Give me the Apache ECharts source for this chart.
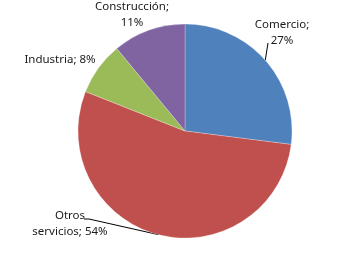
<!DOCTYPE html>
<html><head><meta charset="utf-8">
<script src="https://cdn.jsdelivr.net/npm/echarts@6/dist/echarts.min.js"></script>
<style>html,body{margin:0;padding:0;background:#fff}#c{width:361px;height:257px}</style>
</head><body><div id="c"></div>
<script>
const categories = ['Comercio', 'Otros servicios', 'Industria', 'Construcción'];
const values = [27, 54, 8, 11];
const labelTexts = ['Comercio;\n27%', 'Otros\nservicios; 54%', 'Industria; 8%', 'Construcción;\n11%'];
const colors = ['#4F81BD', '#C0504D', '#9BBB59', '#8064A2'];
const labelPos = [[282, 33], [70, 224], [60, 60], [132, 15]];
const showLine = [true, true, false, false];
// leader-line bends, relative to label centre
const lineBends = [
  [[-14, 10]],
  [[19, -5], [14, -5]],
  [], []
];

const chart = echarts.init(document.getElementById('c'), null, {renderer: 'canvas'});
chart.setOption({
  animation: false,
  backgroundColor: '#fff',
  series: [{
    type: 'pie',
    center: [185, 131],
    radius: 107,
    startAngle: 90,
    clockwise: true,
    data: categories.map((n, i) => ({
      name: n, value: values[i],
      itemStyle: {color: colors[i]},
      labelLine: {show: showLine[i]}
    })),
    itemStyle: {borderColor: 'rgba(255,255,255,0.5)', borderWidth: 0.5},
    label: {
      show: true,
      position: 'outside',
      formatter: p => labelTexts[p.dataIndex],
      fontFamily: 'Noto Sans',
      fontSize: 11.5,
      lineHeight: 16,
      color: '#1a1a1a',
      align: 'center'
    },
    labelLine: {show: true, length: 5, length2: 5, lineStyle: {color: '#000', width: 1}},
    labelLayout: function (p) {
      const i = p.dataIndex;
      const q = labelPos[i];
      const out = {x: q[0], y: q[1], align: 'center', verticalAlign: 'middle'};
      if (showLine[i] && p.labelLinePoints) {
        const start = p.labelLinePoints[0];
        const pts = [[start[0], start[1]]];
        lineBends[i].forEach(b => pts.push([q[0] + b[0], q[1] + b[1]]));
        while (pts.length < 3) pts.push(pts[pts.length - 1]);
        out.labelLinePoints = pts;
      }
      return out;
    }
  }]
});
</script></body></html>
